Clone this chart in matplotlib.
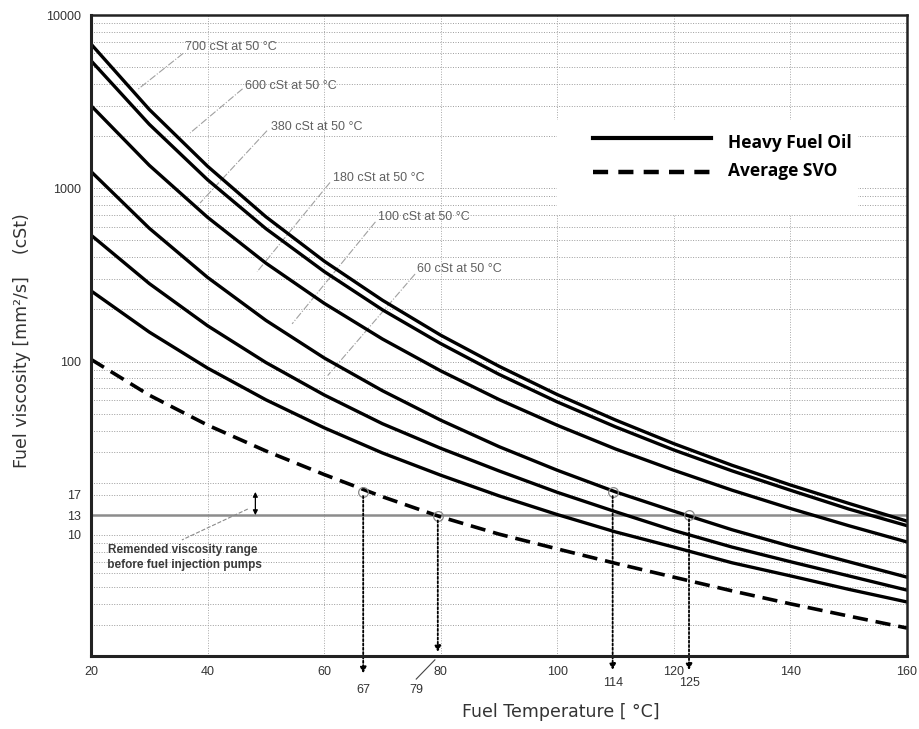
import matplotlib
matplotlib.use("Agg")
import matplotlib.pyplot as plt
from matplotlib.patches import Rectangle
from matplotlib.lines import Line2D
from matplotlib.ticker import FixedLocator, FixedFormatter, LogLocator, NullFormatter

# fuel temperature [degC]
temps = [20, 30, 40, 50, 60, 70, 80, 90, 100, 110, 120, 130, 140, 150, 160]

# heavy fuel oil viscosity [cSt]
hfo_700 = [6800, 2850, 1340, 685, 380, 226, 142, 94, 64.5, 46, 33.6, 25.2, 19.4, 15.2, 12.0]
hfo_600 = [5450, 2340, 1120, 585, 331, 199, 127, 84.4, 58.5, 42.0, 30.9, 23.4, 18.1, 14.1, 11.3]
hfo_380 = [3000, 1357, 680, 370, 217, 135, 88.4, 60.4, 42.9, 31.3, 23.6, 18.1, 14.2, 11.3, 9.1]
hfo_180 = [1250, 588, 306, 173, 105, 67.9, 45.9, 32.3, 23.6, 17.7, 13.7, 10.7, 8.6, 7.0, 5.7]
hfo_100 = [537, 282, 161, 98.8, 64.2, 43.8, 31.6, 23.4, 17.6, 13.6, 10.6, 8.5, 7.0, 5.8, 4.8]
hfo_60 = [256, 148, 91.7, 60.2, 41.5, 29.7, 22.1, 16.8, 13.1, 10.4, 8.5, 6.9, 5.8, 4.85, 4.1]
# average straight vegetable oil
svo = [103, 64, 43, 30.5, 22.3, 16.6, 12.7, 10.1, 8.3, 6.85, 5.7, 4.75, 4.0, 3.4, 2.9]

hfo_curves = [hfo_700, hfo_600, hfo_380, hfo_180, hfo_100, hfo_60]

# curve labels and their leader lines (start -> end in T, cSt)
curve_labels = ["700 cSt at 50 °C", "600 cSt at 50 °C", "380 cSt at 50 °C",
                "180 cSt at 50 °C", "100 cSt at 50 °C", "60 cSt at 50 °C"]
label_pos = [(36.1, 6500), (46.5, 3900), (50.8, 2250), (61.6, 1150), (69.3, 680), (76.0, 340)]
leader_from = [(35.8, 6000), (46.0, 3750), (50.2, 2150), (61.0, 1080), (68.8, 640), (75.6, 320)]
leader_to = [(27.9, 3690), (37.0, 2085), (38.7, 822), (48.5, 330), (54.5, 165), (60.6, 83)]

# recommended range before injection pumps
range_low = 13
range_high = 17.7

# heating temperatures read where the curves cross the range
cross_temps = [66.7, 79.5, 109.5, 122.6]
cross_visc = [17.7, 12.8, 17.7, 13.0]
cross_labels = ["67", "79", "114", "125"]
cross_end = [-0.027, 0.006, -0.022, -0.022]     # axes fraction where the arrow stops
cross_text_y = [-0.053, -0.053, -0.042, -0.042]
cross_text_x = [66.7, 75.8, 109.5, 122.6]

y_ticks = [10, 13, 17, 100, 1000, 10000]
x_ticks = [20, 40, 60, 80, 100, 120, 140, 160]

W, H = 919, 729
fig = plt.figure(figsize=(W / 100, H / 100), dpi=100)
ax = fig.add_axes([91 / W, 1 - 656 / H, 816 / W, 641 / H])

ax.set_yscale("log")
ax.set_xlim(20, 160)
ax.set_ylim(2, 10000)

# grid
ax.yaxis.set_major_locator(FixedLocator(y_ticks))
ax.yaxis.set_major_formatter(FixedFormatter([str(v) for v in y_ticks]))
ax.yaxis.set_minor_locator(LogLocator(base=10, subs=range(2, 10)))
ax.yaxis.set_minor_formatter(NullFormatter())
ax.set_xticks(x_ticks)
ax.grid(True, which="both", axis="y", color="#9c9c9c", linestyle=(0, (1, 1.6)), lw=0.7)
ax.grid(True, which="major", axis="x", color="#a8a8a8", linestyle=(0, (1, 1.6)), lw=0.7)
ax.tick_params(which="both", length=0, pad=7, labelsize=9, labelcolor="#333333")
for lab in ax.get_xticklabels() + ax.get_yticklabels():
    lab.set_family("Liberation Sans")

for s in ax.spines.values():
    s.set_linewidth(1.8)
    s.set_color("#222222")
    s.set_zorder(6)
ax.spines["left"].set_linewidth(2.2)
ax.spines["bottom"].set_linewidth(2.2)

# curves
for vals in hfo_curves:
    ax.plot(temps, vals, color="black", lw=2.4, zorder=4, solid_joinstyle="round")
ax.plot(temps, svo, color="black", lw=2.6, dashes=(4.2, 2.2), zorder=4)

# labels of the curves
for txt, (tx, ty), p0, p1 in zip(curve_labels, label_pos, leader_from, leader_to):
    ax.text(tx, ty, txt, fontsize=9, color="#606060", family="Liberation Sans",
            va="center", ha="left", zorder=5)
    ax.plot([p0[0], p1[0]], [p0[1], p1[1]], color="#a0a0a0", lw=0.8,
            linestyle="-.", zorder=3)

# recommended viscosity range
ax.axhline(range_low, color="#8c8c8c", lw=1.8, zorder=3)
ax.annotate("", xy=(48.2, range_low), xytext=(48.2, range_high),
            arrowprops=dict(arrowstyle="<|-|>", color="black", lw=0.9,
                            mutation_scale=7, shrinkA=0, shrinkB=0), zorder=5)
ax.plot([46.9, 35.6], [14.1, 9.35], color="#8a8a8a", lw=0.8, linestyle="--", zorder=3)
ax.text(35.7, 7.4, "Remended viscosity range\n before fuel injection pumps",
        fontsize=8.5, fontweight="bold", color="#3a3a3a", family="Liberation Sans",
        ha="center", va="center", linespacing=1.35, zorder=5)

# heating temperature arrows
xtr = ax.get_xaxis_transform()
for t, v, lab, yend, ty, tx in zip(cross_temps, cross_visc, cross_labels,
                                   cross_end, cross_text_y, cross_text_x):
    ax.plot([t], [v], marker="o", ms=7, mfc="none", mec="#888888", mew=0.9, zorder=5)
    ax.annotate("", xy=(t, yend), xycoords=xtr, xytext=(t, v), textcoords="data",
                arrowprops=dict(arrowstyle="-|>", color="black", lw=1.3,
                                linestyle=(0, (1.2, 1.2)), mutation_scale=9,
                                shrinkA=3, shrinkB=0),
                annotation_clip=False, zorder=5)
    ax.text(tx, ty, lab, transform=xtr, fontsize=9, color="#333333",
            family="Liberation Sans", ha="center", va="center", clip_on=False)
# small leader from "79" label to its arrow
ax.plot([75.8, 79.0], [-0.036, -0.006], transform=xtr, color="#444444", lw=0.8,
        clip_on=False)

# legend box
fig.patches.append(Rectangle((557 / W, 1 - 215 / H), 301 / W, 95 / H,
                             transform=fig.transFigure, facecolor="white",
                             edgecolor="none", zorder=8))
fig.lines.append(Line2D([593 / W, 711 / W], [1 - 138 / H, 1 - 138 / H],
                        transform=fig.transFigure, color="black", lw=3.0, zorder=9))
fig.lines.append(Line2D([593 / W, 711 / W], [1 - 172 / H, 1 - 172 / H],
                        transform=fig.transFigure, color="black", lw=3.2,
                        dashes=(3.4, 2.3), zorder=9))
fig.text(728 / W, 1 - 143 / H, "Heavy Fuel Oil", fontsize=12.5, fontweight="bold",
         family="Open Sans", va="center", ha="left", zorder=10)
fig.text(728 / W, 1 - 171 / H, "Average SVO", fontsize=12.5, fontweight="bold",
         family="Open Sans", va="center", ha="left", zorder=10)

# axis titles
fig.text(22 / W, 1 - 341 / H, "Fuel viscosity [mm²/s]    (cSt)", rotation=90,
         fontsize=12.5, color="#333333", family="DejaVu Sans", ha="center", va="center")
fig.text(561 / W, 1 - 712 / H, "Fuel Temperature [ °C]", fontsize=12.5,
         color="#333333", family="DejaVu Sans", ha="center", va="center")

fig.savefig("out.png", dpi=100)
